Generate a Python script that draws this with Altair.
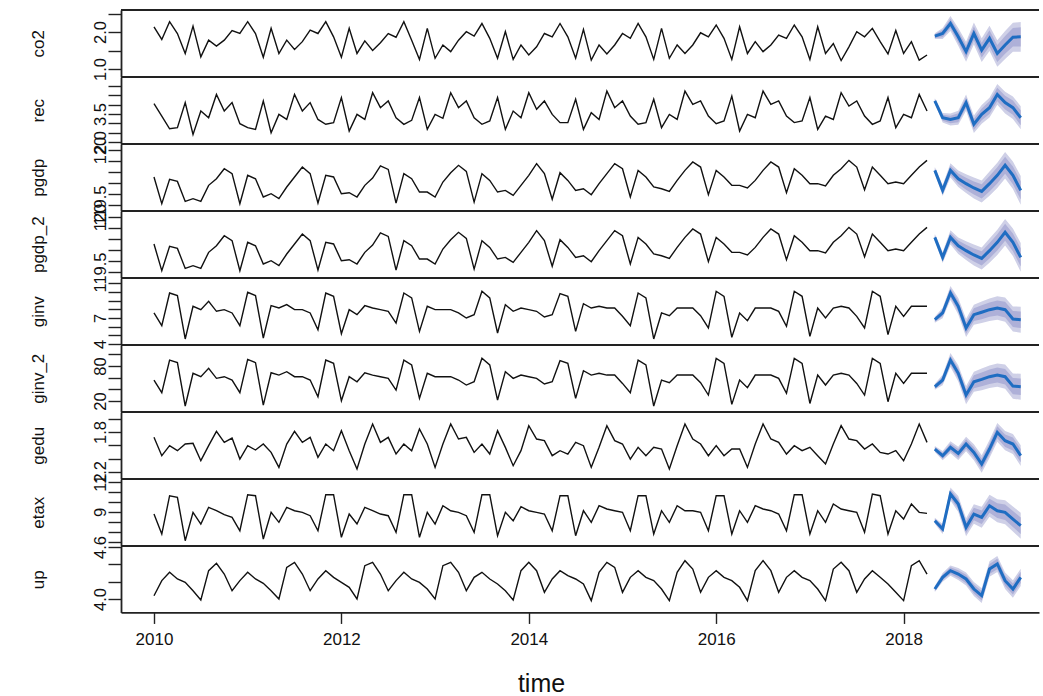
import altair as alt
import pandas as pd

# ---------------- data ----------------
names = ["co2", "rec", "pgdp", "pgdp_2", "ginv", "ginv_2", "gedu", "etax", "up"]
start_year = 2010
n_obs = 100
fc_first = 2018 + 4 / 12
n_fc = 12
x_ticks = [2010, 2012, 2014, 2016, 2018]

co2 = [2.14, 1.80, 2.28, 1.96, 1.42, 2.16, 1.33, 1.78, 1.62, 1.78,
       2.04, 1.96, 2.28, 1.96, 1.32, 2.10, 1.42, 1.78, 1.53, 1.74,
       2.05, 1.96, 2.28, 1.87, 1.32, 2.10, 1.42, 1.76, 1.50, 1.71,
       1.96, 1.86, 2.28, 1.78, 1.26, 2.10, 1.29, 1.65, 1.47, 1.78,
       2.01, 1.89, 2.23, 1.83, 1.29, 2.01, 1.26, 1.65, 1.38, 1.60,
       1.96, 1.87, 2.23, 1.87, 1.29, 2.07, 1.24, 1.65, 1.41, 1.65,
       1.96, 1.83, 2.23, 1.87, 1.26, 2.10, 1.29, 1.65, 1.42, 1.65,
       1.98, 1.87, 2.19, 1.83, 1.26, 2.14, 1.42, 1.74, 1.47, 1.65,
       1.92, 1.83, 2.19, 1.87, 1.26, 2.14, 1.42, 1.69, 1.23, 1.60,
       2.01, 1.87, 2.10, 1.74, 1.41, 2.04, 1.42, 1.74, 1.24, 1.38]
co2_fc = [1.89, 1.96, 2.23, 1.87, 1.47, 1.96, 1.51, 1.83, 1.42, 1.65, 1.86, 1.87]

rec = [4.05, 3.39, 2.71, 2.77, 4.11, 2.41, 3.66, 3.30, 4.55, 3.66,
       4.11, 2.98, 2.77, 2.68, 4.20, 2.50, 3.48, 3.21, 4.55, 3.66,
       4.11, 3.21, 2.95, 3.04, 4.38, 2.59, 3.48, 3.21, 4.64, 3.84,
       4.20, 3.30, 2.95, 3.16, 4.38, 2.68, 3.48, 3.27, 4.64, 3.84,
       4.20, 3.30, 2.95, 3.13, 4.38, 2.68, 3.66, 3.30, 4.64, 3.75,
       4.20, 3.48, 3.04, 3.04, 4.29, 2.68, 3.57, 3.21, 4.73, 3.84,
       4.20, 3.39, 2.95, 3.04, 4.29, 2.77, 3.48, 3.21, 4.73, 4.02,
       4.20, 3.39, 2.98, 3.13, 4.46, 2.59, 3.48, 3.30, 4.73, 4.02,
       4.20, 3.39, 3.04, 3.13, 4.38, 2.68, 3.39, 3.21, 4.64, 3.93,
       4.20, 3.39, 2.95, 3.13, 4.38, 2.77, 3.48, 3.30, 4.55, 3.66]
rec_fc = [4.20, 3.30, 3.21, 3.30, 4.11, 2.95, 3.48, 3.84, 4.55, 4.11, 3.84, 3.30]

pgdp = [119.755, 119.512, 119.733, 119.715, 119.533, 119.558, 119.533, 119.679, 119.739, 119.830,
        119.785, 119.512, 119.770, 119.739, 119.573, 119.603, 119.558, 119.664, 119.755, 119.845,
        119.785, 119.518, 119.770, 119.755, 119.603, 119.612, 119.573, 119.679, 119.745, 119.855,
        119.824, 119.518, 119.785, 119.739, 119.618, 119.618, 119.573, 119.709, 119.794, 119.861,
        119.806, 119.527, 119.785, 119.724, 119.618, 119.633, 119.588, 119.679, 119.770, 119.876,
        119.785, 119.552, 119.794, 119.724, 119.633, 119.648, 119.594, 119.694, 119.785, 119.876,
        119.830, 119.573, 119.815, 119.755, 119.664, 119.648, 119.624, 119.724, 119.815, 119.891,
        119.845, 119.594, 119.815, 119.755, 119.679, 119.679, 119.655, 119.724, 119.815, 119.891,
        119.845, 119.612, 119.830, 119.770, 119.694, 119.694, 119.673, 119.770, 119.830, 119.906,
        119.845, 119.639, 119.845, 119.770, 119.694, 119.709, 119.694, 119.770, 119.845, 119.906]
pgdp_fc = [119.815, 119.633, 119.815, 119.739, 119.694, 119.655, 119.624, 119.694, 119.770, 119.861, 119.770, 119.633]

pgdp_2 = [119.755, 119.512, 119.733, 119.715, 119.533, 119.558, 119.533, 119.679, 119.739, 119.830,
          119.785, 119.512, 119.770, 119.739, 119.573, 119.603, 119.558, 119.664, 119.755, 119.845,
          119.785, 119.518, 119.770, 119.755, 119.603, 119.612, 119.573, 119.679, 119.745, 119.855,
          119.824, 119.518, 119.785, 119.739, 119.618, 119.618, 119.573, 119.709, 119.794, 119.861,
          119.806, 119.527, 119.785, 119.724, 119.618, 119.633, 119.588, 119.679, 119.770, 119.876,
          119.785, 119.552, 119.794, 119.724, 119.633, 119.648, 119.594, 119.694, 119.785, 119.876,
          119.830, 119.573, 119.815, 119.755, 119.664, 119.648, 119.624, 119.724, 119.815, 119.891,
          119.845, 119.594, 119.815, 119.755, 119.679, 119.679, 119.655, 119.724, 119.815, 119.891,
          119.845, 119.612, 119.830, 119.770, 119.694, 119.694, 119.673, 119.770, 119.830, 119.906,
          119.845, 119.639, 119.845, 119.770, 119.694, 119.709, 119.694, 119.770, 119.845, 119.906]
pgdp_2_fc = [119.815, 119.633, 119.815, 119.739, 119.694, 119.655, 119.624, 119.694, 119.770, 119.861, 119.770, 119.633]

ginv = [7.58, 6.12, 9.88, 9.58, 4.58, 8.35, 7.96, 8.92, 7.77, 7.96,
        7.58, 6.12, 9.96, 9.58, 4.69, 8.42, 8.15, 8.54, 7.96, 7.96,
        7.58, 5.65, 9.88, 9.50, 5.19, 7.96, 7.38, 8.42, 8.15, 7.96,
        7.77, 6.42, 9.88, 9.31, 5.46, 8.35, 7.96, 7.96, 7.96, 7.58,
        7.00, 7.38, 10.08, 9.31, 5.27, 8.54, 7.77, 8.15, 7.96, 7.77,
        7.12, 7.38, 9.81, 9.50, 5.46, 8.65, 8.15, 8.35, 8.15, 8.15,
        7.19, 6.12, 9.88, 9.31, 4.58, 7.58, 7.27, 8.15, 8.15, 8.15,
        7.27, 5.85, 10.08, 9.50, 4.77, 7.58, 6.69, 8.15, 8.15, 8.15,
        7.77, 6.04, 10.08, 9.50, 4.88, 8.15, 7.00, 8.15, 8.35, 8.15,
        7.19, 5.85, 10.08, 9.50, 5.08, 8.35, 7.19, 8.35, 8.35, 8.35]
ginv_fc = [6.80, 7.58, 9.88, 8.35, 5.85, 7.38, 7.66, 7.96, 8.15, 7.96, 6.88, 6.80]

ginv_2 = [56.0, 34.4, 90.2, 85.8, 11.5, 67.5, 61.7, 76.0, 58.9, 61.7,
          56.0, 34.4, 91.4, 85.8, 13.1, 68.5, 64.5, 70.3, 61.7, 61.7,
          56.0, 27.4, 90.2, 84.6, 20.5, 61.7, 53.1, 68.5, 64.5, 61.7,
          58.9, 38.8, 90.2, 81.8, 24.6, 67.5, 61.7, 61.7, 61.7, 56.0,
          47.4, 53.1, 93.2, 81.8, 21.7, 70.3, 58.9, 64.5, 61.7, 58.9,
          49.2, 53.1, 89.2, 84.6, 24.6, 72.0, 64.5, 67.5, 64.5, 64.5,
          50.2, 34.4, 90.2, 81.8, 11.5, 56.0, 51.4, 64.5, 64.5, 64.5,
          51.4, 30.3, 93.2, 84.6, 14.3, 56.0, 42.8, 64.5, 64.5, 64.5,
          58.9, 33.2, 93.2, 84.6, 15.9, 64.5, 47.4, 64.5, 67.5, 64.5,
          50.2, 30.3, 93.2, 84.6, 18.9, 67.5, 50.2, 67.5, 67.5, 67.5]
ginv_2_fc = [44.5, 56.0, 90.2, 67.5, 30.3, 53.1, 57.2, 61.7, 64.5, 61.7, 45.6, 44.5]

gedu = [1.72, 1.445, 1.595, 1.52, 1.62, 1.63, 1.37, 1.595, 1.81, 1.645,
        1.71, 1.395, 1.595, 1.53, 1.62, 1.495, 1.27, 1.62, 1.81, 1.645,
        1.72, 1.42, 1.62, 1.52, 1.82, 1.52, 1.245, 1.62, 1.92, 1.645,
        1.72, 1.47, 1.62, 1.52, 1.845, 1.62, 1.27, 1.62, 1.92, 1.695,
        1.72, 1.495, 1.62, 1.47, 1.82, 1.57, 1.295, 1.52, 1.895, 1.695,
        1.67, 1.445, 1.52, 1.47, 1.645, 1.595, 1.27, 1.57, 1.895, 1.67,
        1.62, 1.395, 1.57, 1.445, 1.57, 1.545, 1.245, 1.595, 1.92, 1.695,
        1.62, 1.445, 1.595, 1.445, 1.545, 1.545, 1.27, 1.62, 1.92, 1.695,
        1.645, 1.47, 1.595, 1.52, 1.57, 1.445, 1.32, 1.62, 1.895, 1.695,
        1.67, 1.545, 1.62, 1.495, 1.47, 1.52, 1.37, 1.62, 1.92, 1.645]
gedu_fc = [1.545, 1.445, 1.57, 1.48, 1.62, 1.495, 1.32, 1.545, 1.795, 1.67, 1.62, 1.445]

etax = [8.8, 6.8, 10.63, 10.47, 6.13, 8.97, 7.8, 9.47, 9.13, 8.73,
        8.47, 7.13, 10.73, 10.63, 6.3, 8.97, 7.97, 9.47, 9.13, 8.97,
        8.63, 7.13, 10.73, 10.73, 6.47, 8.8, 7.8, 9.47, 9.13, 8.8,
        8.63, 6.97, 10.73, 10.73, 6.47, 8.97, 7.8, 9.63, 9.13, 8.97,
        8.63, 6.97, 10.73, 10.73, 6.63, 8.97, 8.13, 9.53, 9.13, 8.97,
        8.8, 7.13, 10.63, 10.63, 6.63, 9.13, 7.97, 9.63, 9.3, 9.13,
        8.97, 7.13, 10.63, 10.63, 6.8, 9.13, 7.97, 9.63, 9.13, 9.13,
        8.97, 7.13, 10.63, 10.63, 6.8, 9.13, 7.97, 9.63, 9.3, 9.13,
        8.8, 7.13, 10.73, 10.73, 6.8, 9.13, 7.97, 9.8, 9.3, 9.13,
        8.97, 6.97, 10.8, 10.63, 6.8, 9.13, 8.3, 9.8, 8.97, 8.87]
etax_fc = [8.13, 7.3, 10.8, 9.8, 7.47, 8.8, 8.47, 9.63, 9.13, 8.97, 8.3, 7.63]

up = [4.038, 4.212, 4.308, 4.231, 4.192, 4.096, 3.988, 4.327, 4.412, 4.288,
      4.096, 4.212, 4.308, 4.231, 4.181, 4.096, 4.0, 4.365, 4.423, 4.288,
      4.096, 4.231, 4.327, 4.25, 4.192, 4.135, 4.0, 4.385, 4.423, 4.288,
      4.096, 4.212, 4.308, 4.231, 4.192, 4.115, 4.0, 4.385, 4.423, 4.308,
      4.096, 4.25, 4.308, 4.231, 4.173, 4.096, 3.988, 4.327, 4.423, 4.327,
      4.077, 4.231, 4.327, 4.269, 4.231, 4.173, 3.981, 4.308, 4.423, 4.365,
      4.077, 4.25, 4.327, 4.25, 4.212, 4.115, 3.981, 4.308, 4.442, 4.346,
      4.077, 4.25, 4.327, 4.25, 4.212, 4.135, 3.981, 4.327, 4.442, 4.327,
      4.077, 4.25, 4.327, 4.25, 4.212, 4.115, 3.981, 4.346, 4.423, 4.327,
      4.077, 4.231, 4.327, 4.25, 4.173, 4.077, 3.981, 4.385, 4.442, 4.288]
up_fc = [4.115, 4.25, 4.327, 4.288, 4.231, 4.115, 4.038, 4.346, 4.404, 4.211, 4.115, 4.25]

# half widths of the 95% and 80% forecast bands
hw95 = {
    "co2": [0.08, 0.15, 0.2, 0.24, 0.27, 0.3, 0.32, 0.34, 0.36, 0.38, 0.39, 0.40],
    "rec": [0.15, 0.25, 0.32, 0.38, 0.43, 0.47, 0.5, 0.53, 0.56, 0.58, 0.6, 0.62],
    "pgdp": [0.03, 0.05, 0.065, 0.075, 0.085, 0.095, 0.1, 0.11, 0.115, 0.12, 0.125, 0.13],
    "pgdp_2": [0.03, 0.05, 0.065, 0.075, 0.085, 0.095, 0.1, 0.11, 0.115, 0.12, 0.125, 0.13],
    "ginv": [0.35, 0.6, 0.8, 0.95, 1.05, 1.15, 1.25, 1.3, 1.35, 1.4, 1.45, 1.5],
    "ginv_2": [5, 9, 12, 14, 15.6, 17, 18.5, 19.3, 20, 20.8, 21.5, 22.3],
    "gedu": [0.045, 0.07, 0.09, 0.1, 0.11, 0.12, 0.13, 0.135, 0.14, 0.145, 0.15, 0.155],
    "etax": [0.3, 0.5, 0.65, 0.8, 0.9, 0.98, 1.05, 1.1, 1.15, 1.2, 1.25, 1.3],
    "up": [0.035, 0.05, 0.06, 0.07, 0.075, 0.08, 0.085, 0.09, 0.093, 0.096, 0.1, 0.1],
}
hw80 = {
    "co2": [0.05, 0.1, 0.13, 0.15, 0.17, 0.19, 0.2, 0.22, 0.23, 0.24, 0.25, 0.26],
    "rec": [0.1, 0.16, 0.2, 0.24, 0.27, 0.3, 0.32, 0.34, 0.36, 0.37, 0.38, 0.4],
    "pgdp": [0.02, 0.032, 0.042, 0.048, 0.055, 0.06, 0.064, 0.07, 0.074, 0.077, 0.08, 0.083],
    "pgdp_2": [0.02, 0.032, 0.042, 0.048, 0.055, 0.06, 0.064, 0.07, 0.074, 0.077, 0.08, 0.083],
    "ginv": [0.22, 0.38, 0.51, 0.61, 0.67, 0.74, 0.8, 0.83, 0.86, 0.9, 0.93, 0.96],
    "ginv_2": [3.3, 5.7, 7.6, 9, 10, 11, 11.9, 12.4, 12.8, 13.3, 13.8, 14.3],
    "gedu": [0.03, 0.045, 0.058, 0.064, 0.07, 0.077, 0.083, 0.086, 0.09, 0.093, 0.096, 0.1],
    "etax": [0.19, 0.32, 0.42, 0.51, 0.58, 0.63, 0.67, 0.7, 0.74, 0.77, 0.8, 0.83],
    "up": [0.022, 0.032, 0.038, 0.045, 0.048, 0.051, 0.054, 0.058, 0.06, 0.061, 0.064, 0.064],
}

obs_vals = {"co2": co2, "rec": rec, "pgdp": pgdp, "pgdp_2": pgdp_2, "ginv": ginv,
            "ginv_2": ginv_2, "gedu": gedu, "etax": etax, "up": up}
fc_vals = {"co2": co2_fc, "rec": rec_fc, "pgdp": pgdp_fc, "pgdp_2": pgdp_2_fc, "ginv": ginv_fc,
           "ginv_2": ginv_2_fc, "gedu": gedu_fc, "etax": etax_fc, "up": up_fc}

# y axis: domain, tick values, labelled ticks
y_domain = {"co2": [0.80, 2.595], "rec": [1.925, 5.482], "pgdp": [119.451, 120.0545],
            "pgdp_2": [119.451, 120.0545], "ginv": [3.95, 11.61], "ginv_2": [2.2, 116],
            "gedu": [1.104, 2.1], "etax": [5.66, 12.3], "up": [3.845, 4.6115]}
y_ticks = {"co2": [1.0, 1.5, 2.0, 2.5], "rec": [2.0, 2.5, 3.0, 3.5, 4.0, 4.5, 5.0],
           "pgdp": [119.5, 119.6, 119.7, 119.8, 119.9, 120.0],
           "pgdp_2": [119.5, 119.6, 119.7, 119.8, 119.9, 120.0],
           "ginv": [4, 5, 6, 7, 8, 9, 10, 11], "ginv_2": [20, 40, 60, 80, 100],
           "gedu": [1.2, 1.4, 1.6, 1.8, 2.0], "etax": [6, 7, 8, 9, 10, 11, 12],
           "up": [4.0, 4.2, 4.4, 4.6]}
y_label_vals = {"co2": [1.0, 2.0], "rec": [2.0, 3.5], "pgdp": [119.5, 120.0],
                "pgdp_2": [119.5, 120.0], "ginv": [4, 7], "ginv_2": [20, 80],
                "gedu": [1.2, 1.8], "etax": [9, 12], "up": [4.0, 4.6]}
y_label_txt = {"co2": ["1.0", "2.0"], "rec": ["2.0", "3.5"], "pgdp": ["119.5", "120"],
               "pgdp_2": ["119.5", "120"], "ginv": ["4", "7"], "ginv_2": ["20", "80"],
               "gedu": ["1.2", "1.8"], "etax": ["9", "12"], "up": ["4.0", "4.6"]}

# ---------------- chart ----------------
t_obs = [start_year + i / 12 for i in range(n_obs)]
t_fc = [fc_first + j / 12 for j in range(n_fc)]

W = 918
H = 66.44
X_DOMAIN = [2009.648, 2019.445]
FONT = "Liberation Sans"
one_row = pd.DataFrame({"a": [0]})


def label_expr(vals, txts):
    expr = "''"
    for v, s in zip(reversed(vals), reversed(txts)):
        expr = f"abs(datum.value - ({v})) < 1e-6 ? '{s}' : ({expr})"
    return expr


panels = []
for k, name in enumerate(names):
    obs = obs_vals[name]
    fc = fc_vals[name]
    h95 = hw95[name]
    h80 = hw80[name]
    df = pd.DataFrame({"t": t_obs, "v": obs})
    dff = pd.DataFrame({
        "t": t_fc, "fc": fc,
        "lo95": [f - h for f, h in zip(fc, h95)], "hi95": [f + h for f, h in zip(fc, h95)],
        "lo80": [f - h for f, h in zip(fc, h80)], "hi80": [f + h for f, h in zip(fc, h80)],
    })
    last = k == len(names) - 1
    xscale = alt.Scale(domain=X_DOMAIN, nice=False, zero=False)
    yscale = alt.Scale(domain=y_domain[name], nice=False, zero=False)
    if last:
        xaxis = alt.Axis(values=x_ticks, format="d", title="time", labelFontSize=17,
                         tickSize=11, labelPadding=8, labelFlush=False,
                         titleFontSize=25, titleX=420, titleY=79, titleAlign="center",
                         titleBaseline="alphabetic", domainWidth=1.8)
    else:
        xaxis = None
    yaxis = alt.Axis(values=y_ticks[name], labelExpr=label_expr(y_label_vals[name], y_label_txt[name]),
                     title=name, titleAngle=270, titleX=-83, titleY=H / 2, titleAlign="center",
                     titleBaseline="middle", titleFontSize=17, labelAngle=270, labelAlign="center",
                     labelBaseline="bottom", labelPadding=0, tickSize=13, labelOverlap=False,
                     labelFlush=False, labelFontSize=16.5)
    X = alt.X("t:Q", scale=xscale, axis=xaxis)

    band95 = alt.Chart(dff).mark_area(color="#cfd0e7", clip=True).encode(
        x=X, y=alt.Y("lo95:Q", scale=yscale, axis=yaxis), y2="hi95:Q")
    band80 = alt.Chart(dff).mark_area(color="#aeb0d8", clip=True).encode(
        x=X, y=alt.Y("lo80:Q", scale=yscale, axis=yaxis), y2="hi80:Q")
    obs_line = alt.Chart(df).mark_line(color="#111111", strokeWidth=1.4, clip=True).encode(
        x=X, y=alt.Y("v:Q", scale=yscale, axis=yaxis))
    fc_line = alt.Chart(dff).mark_line(color="#1f6dc2", strokeWidth=3, clip=True).encode(
        x=X, y=alt.Y("fc:Q", scale=yscale, axis=yaxis))
    top_rule = alt.Chart(one_row).mark_rule(color="#222222", strokeWidth=1.8).encode(
        x=alt.value(0), x2=alt.value(W), y=alt.value(0))
    layers = [band95, band80, obs_line, fc_line, top_rule]
    if k == 0:
        anchor = alt.Chart(one_row).mark_rule(color="white", strokeWidth=1).encode(
            x=alt.value(-120.5), y=alt.value(-9.5), y2=alt.value(0))
        layers.append(anchor)
    panels.append(alt.layer(*layers).properties(width=W, height=H))

chart = alt.vconcat(*panels, spacing=0, bounds="flush").properties(
    padding={"left": 0, "right": 0, "top": 0, "bottom": 0}
).configure_view(strokeWidth=0).configure_axis(
    grid=False, labelFont=FONT, titleFont=FONT, labelColor="#111111", titleColor="#111111",
    domainColor="#222222", tickColor="#222222", domainWidth=1.8, tickWidth=1.4,
    titleFontWeight="normal"
)

chart.save("out.html", embed_options={"renderer": "svg", "actions": False})
